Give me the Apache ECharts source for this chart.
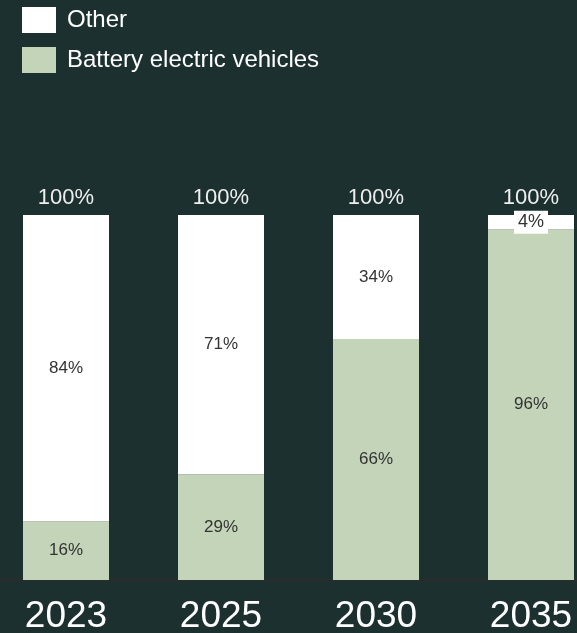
<!DOCTYPE html>
<html>
<head>
<meta charset="utf-8">
<script src="https://cdn.jsdelivr.net/npm/echarts@6/dist/echarts.min.js"></script>
<style>
  html, body { margin: 0; padding: 0; background: #1c3030; }
  #chart { width: 577px; height: 633px; }
</style>
</head>
<body>
<div id="chart"></div>
<script>
// Share of new vehicle sales by year
const years = ['2023', '2025', '2030', '2035'];
const bevShare = [16, 29, 66, 96];
const otherShare = [84, 71, 34, 4];
const totals = years.map((_, i) => bevShare[i] + otherShare[i]);

const FONT = '"Liberation Sans", Arial, sans-serif';
const chart = echarts.init(document.getElementById('chart'));

chart.setOption({
  backgroundColor: '#1c3030',
  animation: false,
  legend: {
    orient: 'vertical',
    left: 17,
    top: 2,
    itemWidth: 34,
    itemHeight: 26,
    itemGap: 14,
    icon: 'rect',
    data: ['Other', 'Battery electric vehicles'],
    textStyle: { color: '#ffffff', fontSize: 24, fontFamily: FONT, padding: [2, 0, 0, 6] }
  },
  grid: { left: -11.5, right: -31.5, top: 215, bottom: 53, containLabel: false, outerBoundsMode: 'none' },
  xAxis: {
    type: 'category',
    data: years,
    axisLine: { show: true, lineStyle: { color: '#2b2b2b', width: 2 } },
    axisTick: { show: false },
    axisLabel: { color: '#ffffff', fontSize: 37, fontFamily: FONT, margin: 18 }
  },
  yAxis: {
    type: 'value',
    min: 0,
    max: 100,
    show: false,
    splitLine: { show: false }
  },
  series: [
    {
      name: 'Battery electric vehicles',
      type: 'bar',
      stack: 'share',
      barWidth: 86,
      data: bevShare,
      itemStyle: { color: '#c3d4b9' },
      label: {
        show: true,
        position: 'inside',
        color: '#333333',
        fontSize: 17,
        fontFamily: FONT,
        formatter: p => p.value + '%'
      }
    },
    {
      name: 'Other',
      type: 'bar',
      stack: 'share',
      barWidth: 86,
      data: otherShare.map(v => ({
        value: v,
        // thin segments get a boxed label so the text stays readable
        label: v < 8 ? { backgroundColor: '#ffffff', padding: [3, 4, 2, 4], fontSize: 18 } : {}
      })),
      itemStyle: { color: '#ffffff' },
      label: {
        show: true,
        position: 'inside',
        color: '#333333',
        fontSize: 17,
        fontFamily: FONT,
        formatter: p => p.value + '%'
      }
    },
    {
      name: 'Total',
      type: 'bar',
      stack: 'share',
      barWidth: 86,
      data: totals.map(() => 0),
      itemStyle: { color: 'transparent' },
      label: {
        show: true,
        position: 'top',
        distance: 6,
        color: '#eeeeee',
        fontSize: 22,
        fontFamily: FONT,
        formatter: p => totals[p.dataIndex] + '%'
      }
    }
  ]
});
</script>
</body>
</html>
